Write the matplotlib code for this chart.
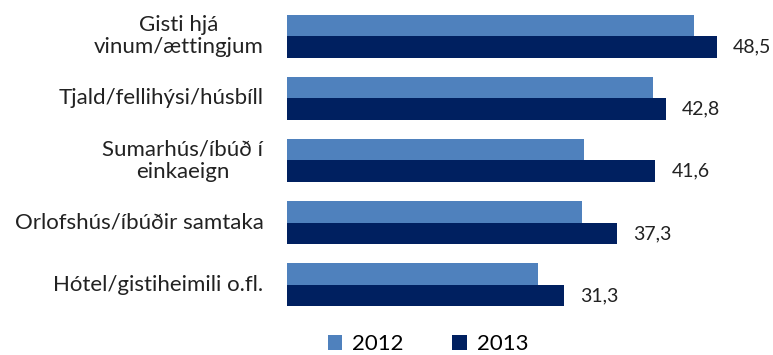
import matplotlib
matplotlib.use("Agg")
import matplotlib.pyplot as plt
import numpy as np

categories = [
    "Gisti hjá\nvinum/ættingjum",
    "Tjald/fellihýsi/húsbíll",
    "Sumarhús/íbúð í\neinkaeign",
    "Orlofshús/íbúðir samtaka",
    "Hótel/gistiheimili o.fl.",
]
values_2012 = [45.9, 41.3, 33.5, 33.3, 28.4]
values_2013 = [48.5, 42.8, 41.6, 37.3, 31.3]
series_labels = ["2012", "2013"]

plt.rcParams["font.family"] = ["Lato", "DejaVu Sans"]

fig = plt.figure(figsize=(7.73, 3.55), dpi=100)
ax = fig.add_axes([286.5 / 773, 1 - 316 / 355, 471 / 773, 311 / 355])

y = np.arange(len(categories))
h = 0.345
ax.barh(y - h / 2, values_2012, height=h, color="#4F81BD", label=series_labels[0])
ax.barh(y + h / 2, values_2013, height=h, color="#002060", label=series_labels[1])

for yi, v in zip(y, values_2013):
    ax.text(v + 1.8, yi + h / 2, f"{v:.1f}".replace(".", ","),
            va="center", ha="left", fontsize=14, color="#222222")

ax.set_ylim(len(categories) - 0.5, -0.5)
ax.set_xlim(0, 471 / 8.87)
ax.set_yticks([])
ax.set_xticks([])
for s in ax.spines.values():
    s.set_visible(False)

# category labels: right-aligned block, lines centred within it
lab_tr = ax.get_yaxis_transform()
for yi, name in zip(y, categories):
    ax.text(-23 / 471, yi, name, transform=lab_tr, ha="right", va="center",
            multialignment="center", fontsize=16, linespacing=1.15,
            color="#222222")

fig.legend(loc="center", bbox_to_anchor=(428 / 773, 1 - 344 / 355), ncol=2,
           frameon=False, fontsize=16, handlelength=0.65, handleheight=0.65,
           handletextpad=0.45, columnspacing=2.2)

fig.savefig("out.png", dpi=100)
